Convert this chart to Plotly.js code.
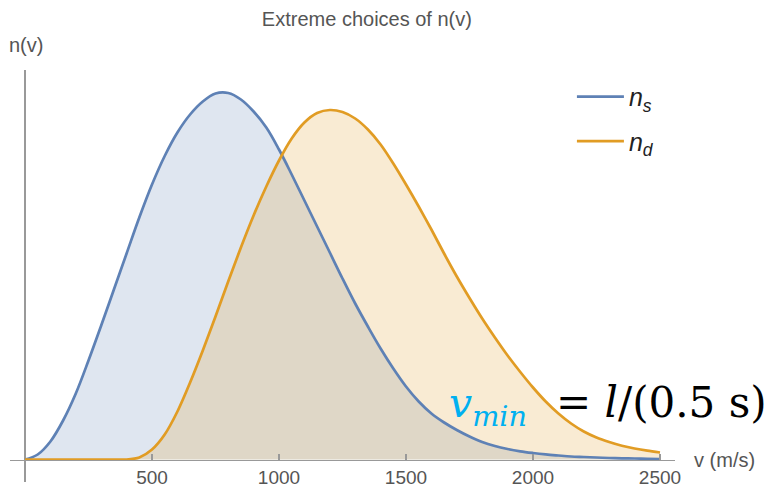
<!DOCTYPE html>
<html>
<head>
<meta charset="utf-8">
<script src="https://cdn.plot.ly/plotly-3.0.1.min.js"></script>
<style>html,body{margin:0;padding:0;background:#fff;}#chart{width:784px;height:488px;}</style>
</head>
<body>
<div id="chart"></div>
<script>
// speed grid, m/s
var speeds = [0,50,100,150,200,250,300,350,400,450,500,550,600,650,700,750,800,850,900,950,
  1000,1050,1100,1150,1200,1250,1300,1350,1400,1450,1500,1550,1600,1650,1700,1750,1800,1850,1900,1950,
  2000,2050,2100,2150,2200,2250,2300,2350,2400,2450,2500];
// n_s (arbitrary units)
var nS = [0,5,18,39,66,99,134,170,206,242,275,303.5,327,345,358,366,366.5,360,348,332,
  310,285,259,233,207,181,156,133,111,91,73,58,46,37,29.5,23,17.5,13.5,10.5,8.2,
  6.5,5.1,4,3,2.5,2,1.5,1.2,1,0.7,0.5];
// n_d (arbitrary units)
var nD = [0,0,0,0,0,0,0,0,0,2,10,25,48,77,109,143,178,212,244,273,
  299,321,337,346.5,349.5,347.5,341,330,315,296,275,253,230,206,183,161.5,141,122,104,87.5,
  72,58,46,36,28,22,17.5,13.8,11,8.8,7];
var xTicks = [500,1000,1500,2000,2500];
var seriesNames = ['<i>n</i><sub><i>s</i></sub>', '<i>n</i><sub><i>d</i></sub>'];

var sans = 'Liberation Sans, Arial, sans-serif';
var traces = [
  // filled areas (no legend)
  {x: speeds, y: nS, type: 'scatter', mode: 'none', showlegend: false,
   line: {shape: 'spline', smoothing: 1},
   fill: 'tozeroy', fillcolor: 'rgba(94,129,181,0.2)', hoverinfo: 'skip'},
  {x: speeds, y: nD, type: 'scatter', mode: 'none', showlegend: false,
   line: {shape: 'spline', smoothing: 0.8},
   fill: 'tozeroy', fillcolor: 'rgba(225,156,36,0.2)', hoverinfo: 'skip'},
  // curves
  {x: speeds, y: nS, name: seriesNames[0], type: 'scatter', mode: 'lines',
   line: {color: '#5E81B5', width: 2.7, shape: 'spline', smoothing: 1},
   legendgroup: 'a', hoverinfo: 'skip'},
  {x: speeds, y: nD, name: seriesNames[1], type: 'scatter', mode: 'lines',
   line: {color: '#E19C24', width: 2.7, shape: 'spline', smoothing: 0.8},
   legendgroup: 'b', hoverinfo: 'skip'}
];

var layout = {
  width: 784, height: 488,
  margin: {l: 10, r: 109, t: 70, b: 6},
  paper_bgcolor: '#fff', plot_bgcolor: 'rgba(0,0,0,0)',
  title: {text: 'Extreme choices of n(v)', font: {family: sans, size: 20, color: '#555'},
          x: 0.468, xref: 'container', xanchor: 'center', y: 0.961, yref: 'container', yanchor: 'middle'},
  xaxis: {range: [-59.06, 2559.1], anchor: 'free', position: 0.0546,
          showline: true, linecolor: '#999', linewidth: 1.3,
          zeroline: true, zerolinecolor: '#999', zerolinewidth: 1.3,
          showgrid: false, ticks: 'inside', ticklen: 6, tickwidth: 1.3, tickcolor: '#999',
          tickvals: xTicks, ticktext: xTicks.map(String), ticklabelstandoff: 0,
          tickfont: {family: sans, size: 19, color: '#555'}},
  yaxis: {range: [-22.5, 389.5], showgrid: false, zeroline: false, showline: false,
          showticklabels: false, ticks: ''},
  showlegend: true,
  legend: {x: 0.845, xanchor: 'left', y: 0.9905, yanchor: 'top', bgcolor: 'rgba(0,0,0,0)',
           font: {family: sans, size: 25, color: '#222'}, tracegroupgap: 9, traceorder: 'grouped',
           itemwidth: 47},
  annotations: [
    {text: 'n(v)', xref: 'paper', yref: 'paper', x: -0.0045, y: 1.0607, xanchor: 'left', yanchor: 'middle',
     showarrow: false, font: {family: sans, size: 20, color: '#555'}},
    {text: 'v (m/s)', xref: 'paper', yref: 'paper', x: 1.0256, y: 0.0534, xanchor: 'left', yanchor: 'middle',
     showarrow: false, font: {family: sans, size: 20, color: '#555'}},
    {text: '<i>v</i><sub><i>min</i></sub>', xref: 'paper', yref: 'paper', x: 0.657, y: 0.2549,
     xanchor: 'left', yanchor: 'top', showarrow: false,
     font: {family: 'DejaVu Serif, serif', size: 41, color: '#00B0F0'}},
    {text: '= <i>l</i>/(0.5 s)', xref: 'paper', yref: 'paper', x: 0.818, y: 0.2574,
     xanchor: 'left', yanchor: 'top', showarrow: false,
     font: {family: 'DejaVu Serif, serif', size: 42, color: '#000'}}
  ]
};
Plotly.newPlot('chart', traces, layout, {staticPlot: true, displayModeBar: false});
</script>
</body>
</html>
